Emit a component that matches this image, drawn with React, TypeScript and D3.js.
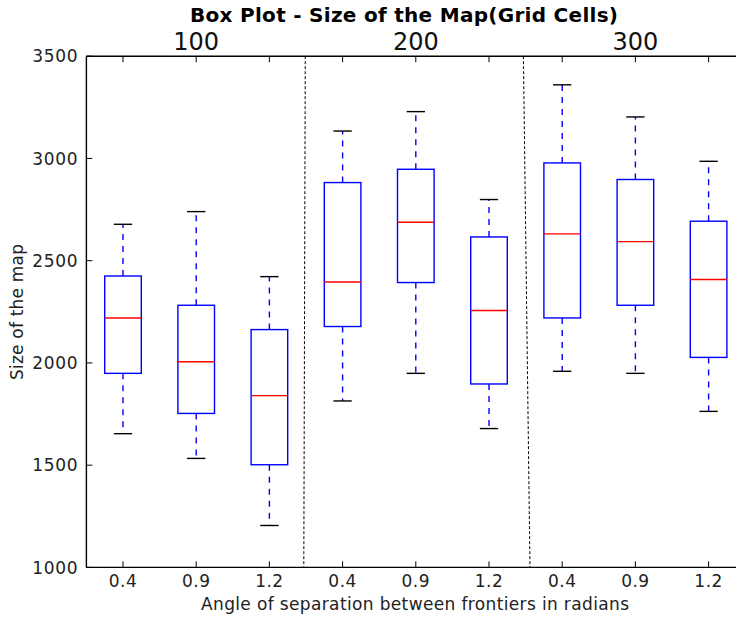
import React from "react";
import * as d3 from "d3";

const groups = ["100", "200", "300"];
const angles = ["0.4", "0.9", "1.2", "0.4", "0.9", "1.2", "0.4", "0.9", "1.2"];
const whiskerHigh = [2678, 2740, 2422, 3134, 3229, 2799, 3360, 3203, 2986];
const q3 = [2425, 2282, 2163, 2882, 2947, 2616, 2978, 2897, 2693];
const median = [2220, 2006, 1840, 2396, 2688, 2256, 2631, 2593, 2408];
const q1 = [1949, 1753, 1502, 2178, 2393, 1897, 2220, 2282, 2027];
const whiskerLow = [1654, 1533, 1205, 1814, 1949, 1679, 1959, 1949, 1763];
const yTicks = [1000, 1500, 2000, 2500, 3000, 3500];
const dividers = [
  [3.49, 3.47],
  [6.47, 6.56],
];

const W = 736;
const H = 619;
const left = 86.4;
const top = 56.2;
const bottom = 567.4;

export default function App() {
  const x = d3.scaleLinear().domain([0.5, 9.5]).range([left, left + 9 * 73.2]);
  const y = d3.scaleLinear().domain([1000, 3500]).range([bottom, top]);
  const font = "'DejaVu Sans', sans-serif";
  const boxW = 0.5;
  const capW = 0.25;
  const positions = angles.map((_, i) => i + 1);

  return (
    <svg
      width={W}
      height={H}
      style={{ position: "absolute", left: 0, top: 0, background: "#fff" }}
      fontFamily={font}
    >
      <rect x={0} y={0} width={W} height={H} fill="#fff" />
      {dividers.map((d, i) => (
        <line
          key={"dv" + i}
          x1={x(d[0])}
          x2={x(d[1])}
          y1={y(3500)}
          y2={y(1000)}
          stroke="#000"
          strokeWidth={1}
          strokeDasharray="3,2"
        />
      ))}
      {positions.map((p, i) => {
        const cx = x(p);
        const bx0 = x(p - boxW / 2);
        const bx1 = x(p + boxW / 2);
        const cx0 = x(p - capW / 2);
        const cx1 = x(p + capW / 2);
        return (
          <g key={"b" + i}>
            <line x1={cx} x2={cx} y1={y(q3[i])} y2={y(whiskerHigh[i])} stroke="#0000ff" strokeWidth={1.4} strokeDasharray="6,6" />
            <line x1={cx} x2={cx} y1={y(q1[i])} y2={y(whiskerLow[i])} stroke="#0000ff" strokeWidth={1.4} strokeDasharray="6,6" />
            <line x1={cx0} x2={cx1} y1={y(whiskerHigh[i])} y2={y(whiskerHigh[i])} stroke="#000" strokeWidth={1.4} />
            <line x1={cx0} x2={cx1} y1={y(whiskerLow[i])} y2={y(whiskerLow[i])} stroke="#000" strokeWidth={1.4} />
            <rect x={bx0} y={y(q3[i])} width={bx1 - bx0} height={y(q1[i]) - y(q3[i])} fill="none" stroke="#0000ff" strokeWidth={1.4} />
            <line x1={bx0} x2={bx1} y1={y(median[i])} y2={y(median[i])} stroke="#ff0000" strokeWidth={1.4} />
          </g>
        );
      })}
      <line x1={left} x2={W} y1={top} y2={top} stroke="#000" strokeWidth={1.4} />
      <line x1={left} x2={W} y1={bottom} y2={bottom} stroke="#000" strokeWidth={1.4} />
      <line x1={left} x2={left} y1={top} y2={bottom} stroke="#000" strokeWidth={1.4} />
      {yTicks.map((t) => (
        <g key={"yt" + t}>
          <line x1={left} x2={left + 6} y1={y(t)} y2={y(t)} stroke="#000" strokeWidth={1} />
          <text x={left - 8} y={y(t)} dy="0.36em" textAnchor="end" fontSize={17} letterSpacing={0.7} fill="#222">
            {t}
          </text>
        </g>
      ))}
      {positions.map((p, i) => (
        <g key={"xt" + i}>
          <line x1={x(p)} x2={x(p)} y1={bottom} y2={bottom - 6} stroke="#000" strokeWidth={1} />
          <line x1={x(p)} x2={x(p)} y1={top} y2={top + 6} stroke="#000" strokeWidth={1} />
          <text x={x(p)} y={587} textAnchor="middle" fontSize={17} letterSpacing={0.5} fill="#222">
            {angles[i]}
          </text>
        </g>
      ))}
      {groups.map((g, i) => (
        <text key={"g" + i} x={x(2 + i * 3)} y={50} textAnchor="middle" fontSize={24} fill="#111">
          {g}
        </text>
      ))}
      <text x={404} y={22} textAnchor="middle" fontSize={20} fontWeight="bold" fill="#000" textLength={428} lengthAdjust="spacing">
        Box Plot - Size of the Map(Grid Cells)
      </text>
      <text x={415} y={610} textAnchor="middle" fontSize={17} fill="#222" textLength={428} lengthAdjust="spacing">
        Angle of separation between frontiers in radians
      </text>
      <text transform={`translate(23,312) rotate(-90)`} textAnchor="middle" fontSize={17} fill="#222" textLength={136} lengthAdjust="spacing">
        Size of the map
      </text>
    </svg>
  );
}
